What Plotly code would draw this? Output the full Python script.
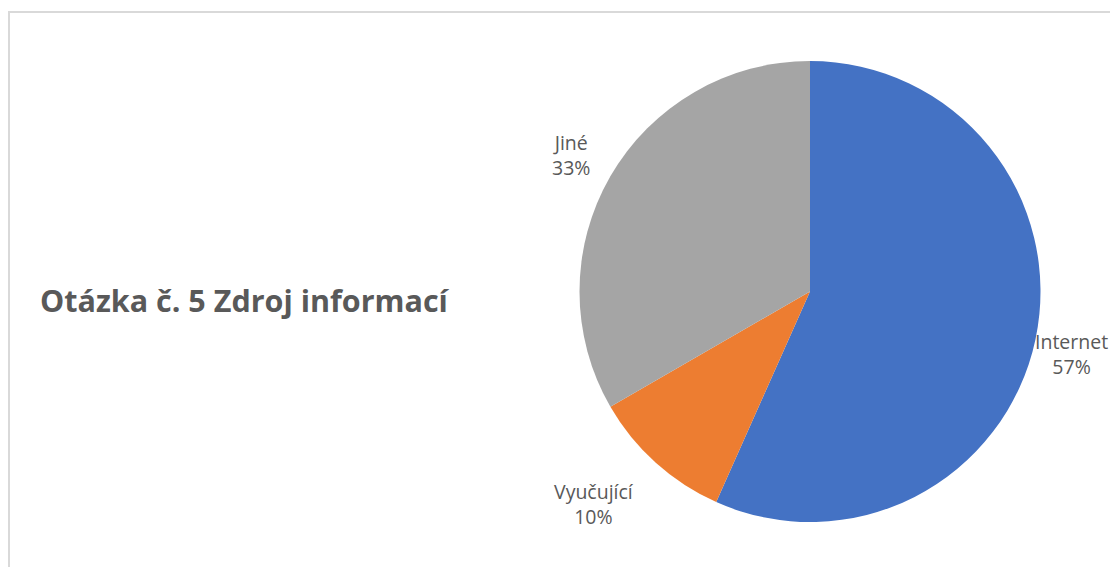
import plotly.graph_objects as go

labels = ["Internet", "Vyučující", "Jiné"]
values = [17, 3, 10]
colors = ["#4472C4", "#ED7D31", "#A5A5A5"]
title_text = "Otázka č. 5 Zdroj informací"

# page body has an 8px margin; keep the figure inside the 1118x575 window
OFF = 8
W, H = 1118 - 2 * OFF, 575 - 2 * OFF
cx, cy, r = 810 - OFF, 291.5 - OFF, 230.5

fig = go.Figure(go.Pie(
    labels=labels, values=values, sort=False, direction="clockwise", rotation=0,
    marker=dict(colors=colors, line=dict(width=0)),
    textinfo="none", hoverinfo="label+percent", showlegend=False,
    domain=dict(x=[(cx - r) / W, (cx + r) / W], y=[1 - (cy + r) / H, 1 - (cy - r) / H]),
))

total = sum(values)
pcts = [round(v / total * 100) for v in values]
label_pos = [(1071, 354), (594, 504), (571, 155)]
anns = []
for lab, p, (x, y) in zip(labels, pcts, label_pos):
    anns.append(dict(x=(x - OFF) / W, y=1 - (y - OFF) / H, xref="paper", yref="paper",
                     text=f"{lab}<br>{p}%", showarrow=False, align="center",
                     xanchor="center", yanchor="middle",
                     font=dict(family="Open Sans, Lato, sans-serif", size=19.5, color="#595959")))
anns.append(dict(x=(38 - OFF) / W, y=1 - (300 - OFF) / H, xref="paper", yref="paper",
                 text=f"<b>{title_text}</b>",
                 showarrow=False, xanchor="left", yanchor="middle",
                 font=dict(family="Open Sans, Lato, sans-serif", size=30.5, color="#595959")))

fig.update_layout(
    width=W, height=H, margin=dict(l=0, r=0, t=0, b=0),
    paper_bgcolor="white", plot_bgcolor="white",
    annotations=anns,
    shapes=[dict(type="rect", xref="paper", yref="paper",
                 x0=1 / W, x1=1.05, y0=-0.05, y1=1 - 4 / H,
                 line=dict(color="#D9D9D9", width=2), fillcolor="rgba(0,0,0,0)")],
)
fig.write_html("out.html")
